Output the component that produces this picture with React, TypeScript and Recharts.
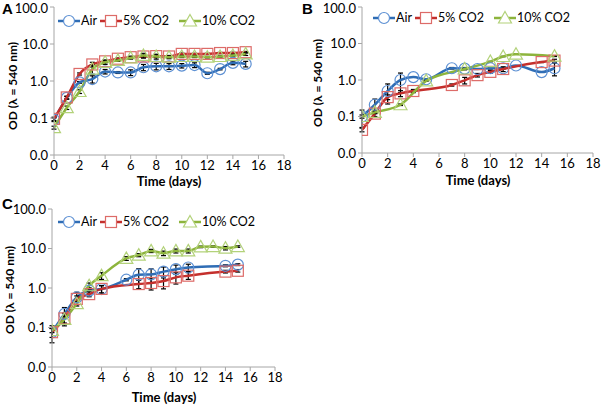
import { LineChart, Line, XAxis, YAxis, ErrorBar } from "recharts";

const font = "Lato, 'Open Sans', sans-serif";
const xTicks = [0, 2, 4, 6, 8, 10, 12, 14, 16, 18];
const yTicks = [0.01, 0.1, 1, 10, 100];
const names = ["Air", "5% CO2", "10% CO2"];

// Panel A
const daysA = [0, 1, 2, 3, 4, 5, 6, 7, 8, 9, 10, 11, 12, 13, 14, 15];
const airA = [0.09, 0.35, 0.92, 1.13, 1.8, 1.7, 1.7, 2.35, 2.5, 2.5, 2.6, 2.7, 1.62, 2.1, 3.1, 2.9];
const airAErr = [0.01, 0.03, 0.05, 0.25, 0.25, 0.1, 0.3, 0.45, 0.5, 0.45, 0.35, 0.4, 0.1, 0.1, 0.35, 0.5];
const co5A = [0.095, 0.36, 1.55, 2.8, 3.4, 4.0, 4.4, 4.6, 4.7, 4.6, 5.4, 5.4, 5.4, 5.7, 5.7, 6.0];
const co5AErr = [0.01, 0.03, 0.1, 0.4, 0.3, 0.2, 0.3, 0.4, 0.4, 0.3, 0.3, 0.2, 0.2, 0.2, 0.3, 0.3];
const co10A = [0.055, 0.19, 0.52, 2.1, 3.2, 3.6, 4.2, 4.9, 4.6, 4.4, 4.6, 4.6, 4.4, 4.6, 4.9, 5.4];
const co10AErr = [0.005, 0.02, 0.06, 0.6, 0.4, 0.2, 0.3, 0.7, 0.7, 0.4, 0.3, 0.3, 0.2, 0.2, 0.4, 0.5];

// Panel B
const airBDays = [0, 1, 2, 3, 4, 5, 7, 8, 9, 10, 11, 12, 14, 15];
const airB = [0.1, 0.21, 0.5, 1.0, 1.2, 1.05, 2.1, 2.05, 2.0, 2.1, 2.1, 2.5, 1.65, 2.1];
const airBErr = [0.05, 0.09, 0.28, 0.55, 0, 0, 0.1, 0.15, 0, 0.1, 0.1, 0, 0, 0.8];
const co5BDays = [0, 1, 2, 3, 4, 7, 8, 9, 10, 11, 14, 15];
const co5B = [0.043, 0.12, 0.34, 0.43, 0.5, 0.73, 0.98, 1.36, 1.67, 2.0, 3.1, 3.4];
const co5BErr = [0.005, 0.02, 0.05, 0.08, 0.05, 0.05, 0.2, 0.15, 0.15, 0.3, 0.1, 0.3];
const co10BDays = [0, 1, 3, 5, 8, 10, 11, 12, 15];
const co10B = [0.1, 0.13, 0.21, 0.95, 2.0, 3.2, 4.4, 5.1, 4.5];
const co10BErr = [0.01, 0.01, 0.01, 0.02, 0.05, 0.05, 0.05, 0.05, 0.1];

// Panel C
const airCDays = [0, 1, 2, 3, 4, 6, 7, 8, 9, 10, 11, 14, 15];
const airC = [0.076, 0.22, 0.58, 0.86, 0.94, 1.62, 2.17, 2.2, 2.6, 3.0, 3.3, 3.65, 3.9];
const airCErr = [0.035, 0.1, 0.2, 0.15, 0.2, 0.1, 0.9, 0.85, 0.8, 0.8, 0.7, 0.2, 0.2];
const co5CDays = [0, 1, 2, 3, 4, 7, 8, 9, 10, 11, 14, 15];
const co5C = [0.076, 0.17, 0.53, 0.7, 0.95, 1.26, 1.34, 1.5, 1.86, 2.05, 2.6, 2.73];
const co5CErr = [0.02, 0.06, 0.1, 0.1, 0.2, 0.3, 0.45, 0.55, 0.6, 0.4, 0.2, 0.2];
const co10CDays = [0, 1, 2, 3, 4, 6, 7, 8, 9, 10, 11, 12, 13, 14, 15];
const co10C = [0.084, 0.16, 0.4, 1.14, 2.05, 5.6, 6.8, 8.7, 7.6, 8.7, 8.7, 11, 11.2, 10.2, 11.2];
const co10CErr = [0.01, 0.03, 0.05, 0.2, 0.4, 0.6, 0.6, 0.8, 1.0, 1.0, 1.0, 0.5, 0.5, 1.0, 0.5];

type Shape = "circle" | "square" | "triangle";
type Row = { day: number; od: number; err: number };
type Series = { name: string; color: string; edge: string; shape: Shape; data: Row[] };

const rows = (days: number[], vals: number[], errs: number[]): Row[] =>
  days.map((d, i) => ({ day: d, od: vals[i], err: errs[i] }));

const styles = [
  { color: "#2f6db5", edge: "#5d90d3", shape: "circle" as Shape },
  { color: "#c42f2c", edge: "#dd6b68", shape: "square" as Shape },
  { color: "#8db43c", edge: "#b3d27a", shape: "triangle" as Shape },
];

const makeSeries = (sets: Row[][]): Series[] =>
  sets.map((data, i) => ({ name: names[i], ...styles[i], data }));

const seriesA = makeSeries([
  rows(daysA, airA, airAErr),
  rows(daysA, co5A, co5AErr),
  rows(daysA, co10A, co10AErr),
]);
const seriesB = makeSeries([
  rows(airBDays, airB, airBErr),
  rows(co5BDays, co5B, co5BErr),
  rows(co10BDays, co10B, co10BErr),
]);
const seriesC = makeSeries([
  rows(airCDays, airC, airCErr),
  rows(co5CDays, co5C, co5CErr),
  rows(co10CDays, co10C, co10CErr),
]);

function marker(shape: Shape, edge: string, cx: number, cy: number, fill: string, key?: any) {
  if (shape === "circle")
    return <circle key={key} cx={cx} cy={cy} r={5.5} fill={fill} stroke={edge} strokeWidth={1.2} />;
  if (shape === "square")
    return <rect key={key} x={cx - 5.5} y={cy - 5.5} width={11} height={11} fill={fill} stroke={edge} strokeWidth={1.2} />;
  return (
    <polygon
      key={key}
      points={`${cx},${cy - 6.5} ${cx + 6.5},${cy + 5} ${cx - 6.5},${cy + 5}`}
      fill={fill}
      stroke={edge}
      strokeWidth={1.2}
    />
  );
}

const dotFor = (s: Series) => (p: any) =>
  p.cx == null || p.cy == null ? <g key={p.index} /> : marker(s.shape, s.edge, p.cx, p.cy, "none", p.index);

function LegendRow({ series, x, y }: { series: Series[]; x: number; y: number }) {
  return (
    <div style={{ position: "absolute", left: x, top: y - 8, display: "flex", alignItems: "center",
      fontFamily: font, fontSize: 12.5, color: "#000", lineHeight: "16px" }}>
      {series.map((s, i) => (
        <div key={s.name} style={{ display: "flex", alignItems: "center", marginRight: i === 1 ? 10 : 3 }}>
          <svg width={22} height={16}>
            <line x1={0} y1={8} x2={22} y2={8} stroke={s.color} strokeWidth={2.5} />
            {marker(s.shape, s.edge, 11, 8, "#fff")}
          </svg>
          <span style={{ marginLeft: 1 }}>{s.name}</span>
        </div>
      ))}
    </div>
  );
}

interface PanelProps {
  letter: string;
  series: Series[];
  left: number;
  top: number;
  width: number;
  height: number;
  margin: { top: number; right: number; bottom: number; left: number };
  yWidth: number;
  xHeight: number;
  yTitle: [number, number];
  xTitle: [number, number];
  legend: [number, number];
}

function Panel(p: PanelProps) {
  const axisColor = "#a6a6a6";
  const tick = { fill: "#000", fontSize: 13, fontFamily: font };
  return (
    <div style={{ position: "absolute", left: p.left, top: p.top, width: p.width, height: p.height }}>
      <LineChart width={p.width} height={p.height} margin={p.margin}>
        <XAxis
          type="number"
          dataKey="day"
          domain={[0, 18]}
          ticks={xTicks}
          height={p.xHeight}
          stroke={axisColor}
          tickSize={4}
          tickMargin={2}
          tick={tick}
          allowDataOverflow
          label={() => (
            <text x={p.xTitle[0]} y={p.xTitle[1]} textAnchor="middle" dominantBaseline="central"
              fontFamily={font} fontSize={13} fontWeight="bold" fill="#000">
              Time (days)
            </text>
          )}
        />
        <YAxis
          type="number"
          scale="log"
          domain={[0.01, 100]}
          ticks={yTicks}
          width={p.yWidth}
          stroke={axisColor}
          tickSize={4}
          tickMargin={2}
          tick={tick}
          allowDataOverflow
          tickFormatter={(v: number) => v.toFixed(1)}
          label={() => (
            <text x={p.yTitle[0]} y={p.yTitle[1]} transform={`rotate(-90 ${p.yTitle[0]} ${p.yTitle[1]})`}
              textAnchor="middle" dominantBaseline="central"
              fontFamily={font} fontSize={12} fontWeight="bold" fill="#000">
              OD (λ = 540 nm)
            </text>
          )}
        />
        {p.series.map((s) => (
          <Line
            key={s.name}
            data={s.data}
            dataKey="od"
            name={s.name}
            type="monotone"
            stroke={s.color}
            strokeWidth={2.5}
            dot={dotFor(s)}
            activeDot={false}
            isAnimationActive={false}
          >
            <ErrorBar dataKey="err" direction="y" width={2.5} stroke="#000" strokeWidth={1.2} />
          </Line>
        ))}
      </LineChart>
      <LegendRow series={p.series} x={p.legend[0]} y={p.legend[1]} />
      <div style={{ position: "absolute", left: 2, top: 1, fontFamily: "'Liberation Sans', Arial, sans-serif",
        fontWeight: "bold", fontSize: 15, lineHeight: "15px" }}>
        {p.letter}
      </div>
    </div>
  );
}

export default function App() {
  return (
    <div style={{ position: "absolute", left: 0, top: 0, width: 602, height: 405, background: "#fff", overflow: "hidden" }}>
      <Panel letter="A" series={seriesA} left={0} top={0} width={300} height={195}
        margin={{ top: 7, right: 16, bottom: 5, left: 0 }} yWidth={54} xHeight={35}
        yTitle={[12, 86]} xTitle={[169, 181]} legend={[58, 21]} />
      <Panel letter="B" series={seriesB} left={300} top={0} width={302} height={195}
        margin={{ top: 7, right: 9, bottom: 7, left: 0 }} yWidth={62} xHeight={35}
        yTitle={[17, 83]} xTitle={[178, 180]} legend={[73, 18]} />
      <Panel letter="C" series={seriesC} left={0} top={195} width={300} height={210}
        margin={{ top: 14, right: 25, bottom: 5, left: 0 }} yWidth={52} xHeight={33}
        yTitle={[9, 95]} xTitle={[164, 202]} legend={[58, 27]} />
    </div>
  );
}
